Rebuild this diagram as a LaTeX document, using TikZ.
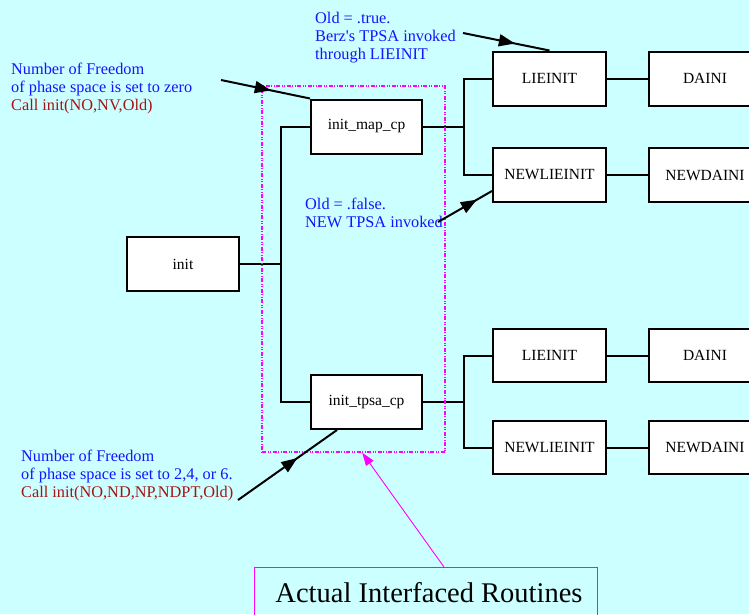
\documentclass[tikz,border=0pt]{standalone}
\usepackage{fontspec}
\setmainfont{Liberation Serif}
\usetikzlibrary{arrows.meta,decorations.markings,calc}
\definecolor{bgc}{RGB}{204,255,255}
\definecolor{ablue}{RGB}{20,20,255}
\definecolor{ared}{RGB}{165,20,20}
\definecolor{mag}{RGB}{255,0,255}
\tikzset{
  box/.style={draw=black, line width=2pt, fill=white, inner sep=0pt, minimum width=112pt, minimum height=54pt, font=\fontsize{15.5}{18}\selectfont},
  wire/.style={line width=2pt},
  note/.style={inner sep=0pt, align=left, anchor=base west, font=\fontsize{16.3}{18}\selectfont, text=ablue},
  callout/.style={line width=2pt, postaction={decorate}},
  midtip/.style={decoration={markings, mark=at position #1 with {\arrow{Triangle[length=16pt,width=12pt]}}}},
}
\begin{document}
\begin{tikzpicture}[x=1pt,y=-1pt]
\fill[bgc] (0,0) rectangle (749,614);
\useasboundingbox (0,0) rectangle (749,614);
% boxes
\node[box] (init) at (183,264) {init};
\node[box, minimum width=111pt] (mapcp) at (366.5,126.5) {init\_map\_cp};
\node[box, minimum width=111pt] (tpsacp) at (366.5,402) {init\_tpsa\_cp};
\node[box, minimum width=113pt] (lie1) at (549.5,78.5) {LIEINIT};
\node[box] (dai1) at (705,78.5) {DAINI};
\node[box, minimum width=113pt] (nlie1) at (549.5,175) {NEWLIEINIT};
\node[box] (ndai1) at (705,175) {NEWDAINI};
\node[box, minimum width=113pt, minimum height=53pt] (lie2) at (549.5,355.5) {LIEINIT};
\node[box, minimum height=53pt] (dai2) at (705,355.5) {DAINI};
\node[box, minimum width=113pt, minimum height=53pt] (nlie2) at (549.5,447.5) {NEWLIEINIT};
\node[box, minimum height=53pt] (ndai2) at (705,447.5) {NEWDAINI};
% junctions
\coordinate (j1) at (281,264);
\coordinate (j2) at (464,126.5);
\coordinate (j3) at (464,402);
\draw[wire] (init.east) -- (j1);
\draw[wire] (mapcp.west) -| (j1) |- (tpsacp.west);
\draw[wire] (mapcp.east) -- (j2);
\draw[wire] (lie1.west) -| (j2) |- (nlie1.west);
\draw[wire] (tpsacp.east) -- (j3);
\draw[wire] (lie2.west) -| (j3) |- (nlie2.west);
\draw[wire] (lie1) -- (dai1);
\draw[wire] (nlie1) -- (ndai1);
\draw[wire] (lie2) -- (dai2);
\draw[wire] (nlie2) -- (ndai2);
% group frame
\node[draw=mag, line width=1.5pt, dash pattern=on 4pt off 1.5pt on 1pt off 1.5pt on 1pt off 1.5pt, minimum width=183pt, minimum height=366pt, inner sep=0pt] (grp) at (353.5,269) {};
% bottom label
\node[draw=mag, line width=1pt, minimum width=343pt, minimum height=60pt, inner sep=0pt, anchor=north west] (lbl) at (254,567) {};
\node[anchor=base, inner sep=0pt, font=\fontsize{28.5}{32}\selectfont] (lbltext) at (429,602) {Actual Interfaced Routines};
\draw[mag, line width=0.9pt, -{Triangle[length=13pt,width=9pt]}] ($(lbl.north west)+(190,0)$) -- ($(grp.south west)+(101,0)$);
% notes
\node[note] (n1) at (315,59) {Old = .true.\\Berz\textquotesingle s TPSA invoked\\through LIEINIT};
\node[note] (n2) at (11,110) {Number of Freedom\\of phase space is set to zero\\\textcolor{ared}{Call init(NO,NV,Old)}};
\node[note] (n3) at (305,227) {Old = .false.\\NEW TPSA invoked};
\node[note] (n4) at (21,497) {Number of Freedom\\of phase space is set to 2,4, or 6.\\\textcolor{ared}{Call init(NO,ND,NP,NDPT,Old)}};
% callout arrows
\coordinate (a1) at (221,80);
\coordinate (a2) at (463,33);
\coordinate (a3) at (438,222);
\coordinate (a4) at (238,500);
\draw[callout, midtip=0.56] (a1) -- (mapcp.north west);
\draw[callout, midtip=0.6] (a2) -- (lie1.north);
\draw[callout, midtip=0.72] (a3) -- ($(nlie1.south west)+(0,-12)$);
\draw[callout, midtip=0.6] (a4) -- ($(tpsacp.south west)+(27,0)$);
\end{tikzpicture}
\end{document}
